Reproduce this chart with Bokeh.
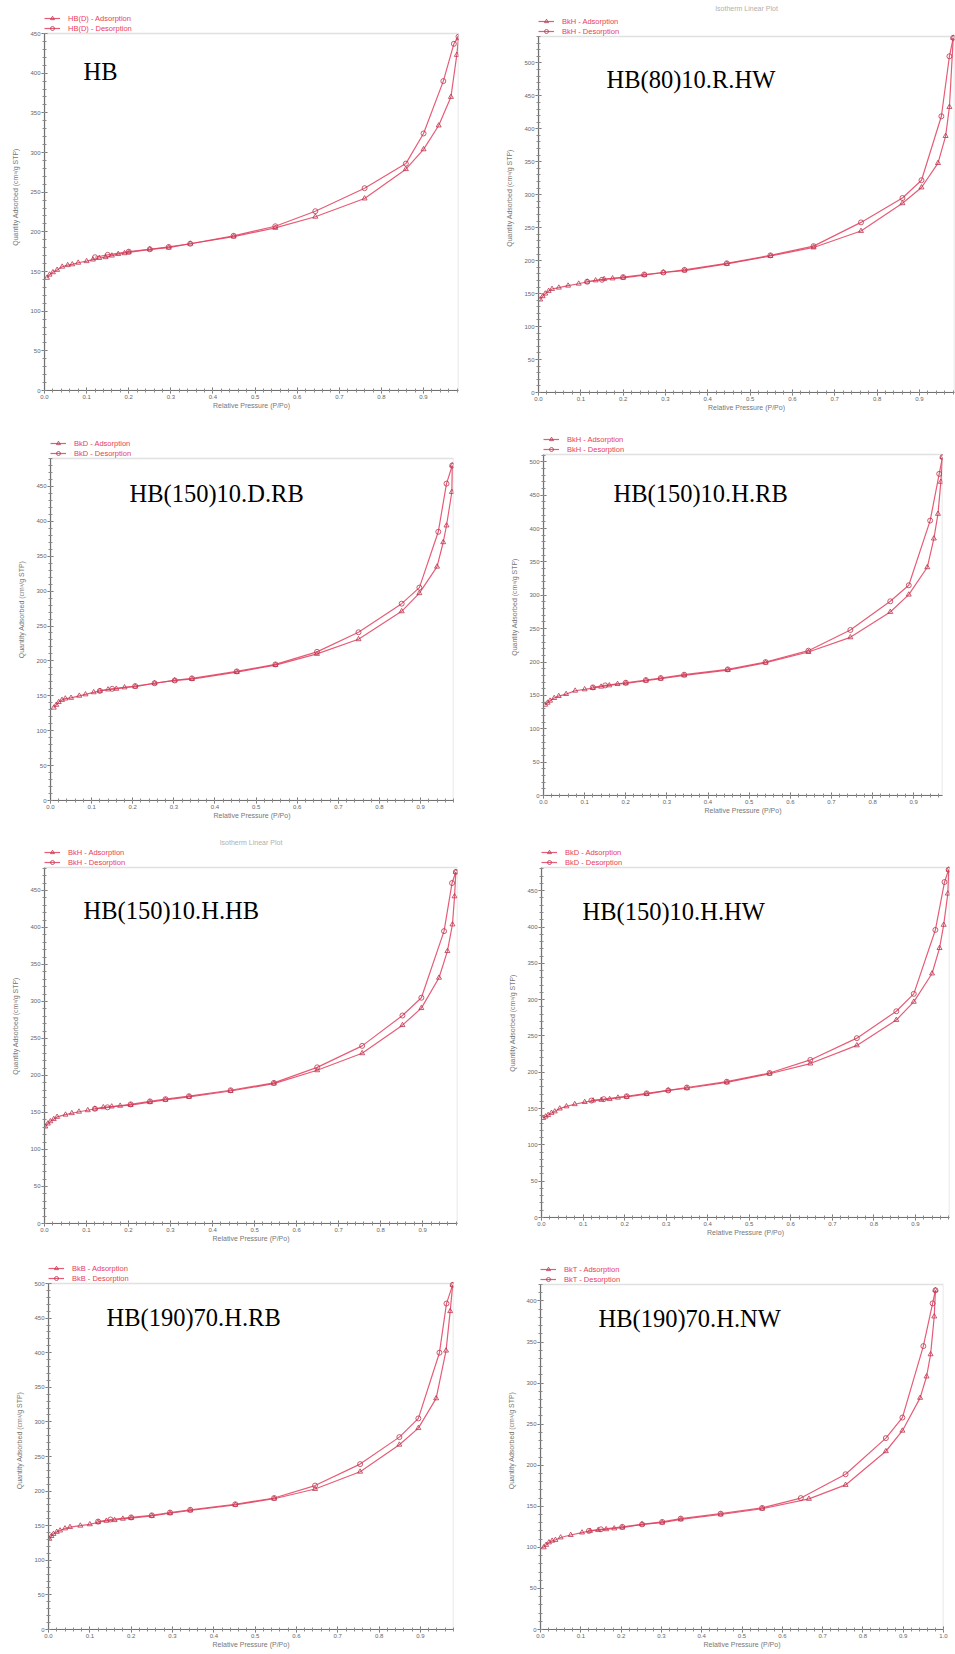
from bokeh.plotting import figure
from bokeh.models import (Legend, LegendItem, Label, SingleIntervalTicker, BoxAnnotation,
                          NumeralTickFormatter, Range1d)
from bokeh.layouts import column, row
from bokeh.embed import file_html
from bokeh.resources import INLINE

# ---------------- data ----------------
sample_names = ["HB", "HB(80)10.R.HW", "HB(150)10.D.RB", "HB(150)10.H.RB",
                "HB(150)10.H.HB", "HB(150)10.H.HW", "HB(190)70.H.RB", "HB(190)70.H.NW"]
legend_ids = ["HB(D)", "BkH", "BkD", "BkH", "BkH", "BkD", "BkB", "BkT"]
y_max = [450, 540, 490, 511, 481, 482, 500, 420]
x_max = [0.983, 0.983, 0.98, 0.97, 0.983, 0.982, 0.98, 1.0]

hb_ads_x = [0.006, 0.012, 0.02, 0.03, 0.042, 0.055, 0.066, 0.08, 0.10, 0.115, 0.13, 0.145, 0.16, 0.175, 0.19, 0.20,
            0.25, 0.295, 0.346, 0.449, 0.548, 0.643, 0.76, 0.858, 0.90, 0.936, 0.965, 0.979, 0.983]
hb_ads_y = [142, 146, 149, 152, 156, 158, 159, 161, 163, 165, 167, 168, 170, 172, 173, 174,
            178, 180, 185, 194, 205, 219, 242, 279, 304, 334, 370, 423, 444]
hb_des_x = [0.983, 0.972, 0.947, 0.90, 0.858, 0.76, 0.643, 0.548, 0.449, 0.346, 0.295, 0.25, 0.20, 0.15, 0.12]
hb_des_y = [446, 437, 390, 324, 286, 255, 226, 207, 195, 185, 181, 178, 175, 171, 168]

r80_ads_x = [0.004, 0.01, 0.016, 0.024, 0.032, 0.048, 0.07, 0.095, 0.115, 0.135, 0.155, 0.175, 0.20, 0.25,
             0.295, 0.345, 0.445, 0.548, 0.65, 0.762, 0.86, 0.905, 0.944, 0.962, 0.971, 0.98]
r80_ads_y = [141, 146, 150, 154, 157, 159, 162, 165, 168, 170, 172, 173, 174, 178,
             182, 185, 195, 207, 220, 245, 287, 311, 348, 389, 433, 538]
r80_des_x = [0.98, 0.971, 0.952, 0.905, 0.86, 0.762, 0.65, 0.548, 0.445, 0.345, 0.295, 0.25, 0.20, 0.15, 0.115]
r80_des_y = [538, 510, 419, 322, 295, 258, 222, 208, 196, 186, 182, 179, 175, 171, 168]

d150rb_ads_x = [0.008, 0.014, 0.02, 0.028, 0.036, 0.05, 0.07, 0.085, 0.105, 0.12, 0.14, 0.16, 0.18, 0.206,
                0.253, 0.302, 0.344, 0.453, 0.547, 0.648, 0.749, 0.854, 0.897, 0.94, 0.955, 0.963, 0.976, 0.977]
d150rb_ads_y = [133, 137, 141, 144, 146, 147, 150, 152, 155, 157, 159, 160, 162, 163,
                168, 172, 174, 184, 194, 210, 231, 271, 297, 335, 370, 394, 442, 480]
d150rb_des_x = [0.977, 0.963, 0.943, 0.897, 0.854, 0.749, 0.648, 0.547, 0.453, 0.344, 0.302, 0.253, 0.206, 0.15, 0.12]
d150rb_des_y = [480, 454, 385, 305, 282, 241, 213, 195, 185, 175, 172, 168, 164, 160, 157]

h150rb_ads_x = [0.004, 0.01, 0.016, 0.026, 0.037, 0.055, 0.077, 0.10, 0.12, 0.14, 0.16, 0.18, 0.20, 0.249,
                0.285, 0.342, 0.448, 0.54, 0.644, 0.746, 0.843, 0.888, 0.933, 0.949, 0.959, 0.966, 0.97]
h150rb_ads_y = [136, 139, 142, 146, 149, 152, 157, 159, 161, 163, 165, 167, 168, 172,
                175, 180, 188, 199, 215, 237, 275, 301, 342, 385, 422, 470, 507]
h150rb_des_x = [0.97, 0.962, 0.94, 0.888, 0.843, 0.746, 0.644, 0.54, 0.448, 0.342, 0.285, 0.249, 0.20, 0.15, 0.12]
h150rb_des_y = [507, 482, 412, 315, 291, 248, 217, 200, 189, 181, 176, 173, 169, 165, 162]

h150hb_ads_x = [0.002, 0.008, 0.014, 0.022, 0.03, 0.05, 0.065, 0.082, 0.103, 0.12, 0.14, 0.16, 0.18, 0.205,
                0.251, 0.288, 0.344, 0.443, 0.546, 0.649, 0.756, 0.852, 0.897, 0.939, 0.959, 0.971, 0.976, 0.979]
h150hb_ads_y = [131, 135, 138, 141, 144, 147, 149, 151, 153, 155, 157, 158, 159, 160,
                164, 167, 171, 179, 189, 207, 230, 268, 291, 332, 368, 404, 442, 475]
h150hb_des_x = [0.979, 0.97, 0.951, 0.897, 0.852, 0.756, 0.649, 0.546, 0.443, 0.344, 0.288, 0.251, 0.205, 0.15, 0.12]
h150hb_des_y = [475, 460, 395, 305, 281, 240, 211, 190, 180, 172, 168, 165, 161, 157, 155]

h150hw_ads_x = [0.004, 0.01, 0.016, 0.024, 0.032, 0.044, 0.06, 0.08, 0.104, 0.124, 0.144, 0.164, 0.184, 0.205,
                0.253, 0.305, 0.35, 0.446, 0.549, 0.647, 0.759, 0.854, 0.896, 0.94, 0.958, 0.968, 0.978, 0.98]
h150hw_ads_y = [137, 139, 141, 144, 146, 150, 153, 156, 159, 161, 162, 163, 165, 166,
                170, 175, 178, 186, 198, 212, 237, 272, 297, 336, 371, 403, 446, 479]
h150hw_des_x = [0.98, 0.97, 0.948, 0.896, 0.854, 0.759, 0.647, 0.549, 0.446, 0.35, 0.305, 0.253, 0.205, 0.15, 0.12]
h150hw_des_y = [479, 462, 396, 308, 284, 247, 217, 199, 187, 179, 175, 171, 167, 163, 161]

h190rb_ads_x = [0.002, 0.007, 0.012, 0.02, 0.028, 0.04, 0.052, 0.077, 0.10, 0.12, 0.14, 0.16, 0.18, 0.20,
                0.25, 0.294, 0.343, 0.452, 0.546, 0.645, 0.754, 0.849, 0.895, 0.938, 0.962, 0.972, 0.978]
h190rb_ads_y = [131, 135, 138, 141, 143, 146, 148, 150, 152, 155, 157, 158, 160, 161,
                164, 168, 172, 180, 189, 203, 228, 267, 291, 334, 403, 460, 498]
h190rb_des_x = [0.978, 0.963, 0.946, 0.895, 0.849, 0.754, 0.645, 0.546, 0.452, 0.343, 0.294, 0.25, 0.20, 0.15, 0.12]
h190rb_des_y = [498, 471, 400, 305, 278, 239, 208, 190, 181, 173, 169, 165, 162, 159, 156]

h190nw_ads_x = [0.008, 0.014, 0.021, 0.029, 0.037, 0.05, 0.075, 0.103, 0.123, 0.143, 0.163, 0.183, 0.203,
                0.252, 0.302, 0.348, 0.447, 0.55, 0.666, 0.757, 0.857, 0.898, 0.942, 0.958, 0.968, 0.977, 0.98]
h190nw_ads_y = [100, 103, 106, 108, 109, 112, 115, 118, 120, 121, 122, 123, 124,
                128, 130, 134, 140, 147, 159, 176, 217, 242, 282, 308, 335, 381, 413]
h190nw_des_x = [0.98, 0.973, 0.95, 0.898, 0.857, 0.757, 0.646, 0.55, 0.447, 0.348, 0.302, 0.252, 0.203, 0.15, 0.12]
h190nw_des_y = [413, 397, 345, 258, 233, 189, 160, 148, 141, 135, 131, 128, 125, 122, 120]

ads_x = [hb_ads_x, r80_ads_x, d150rb_ads_x, h150rb_ads_x, h150hb_ads_x, h150hw_ads_x, h190rb_ads_x, h190nw_ads_x]
ads_y = [hb_ads_y, r80_ads_y, d150rb_ads_y, h150rb_ads_y, h150hb_ads_y, h150hw_ads_y, h190rb_ads_y, h190nw_ads_y]
des_x = [hb_des_x, r80_des_x, d150rb_des_x, h150rb_des_x, h150hb_des_x, h150hw_des_x, h190rb_des_x, h190nw_des_x]
des_y = [hb_des_y, r80_des_y, d150rb_des_y, h150rb_des_y, h150hb_des_y, h150hw_des_y, h190rb_des_y, h190nw_des_y]

# ---------------- layout (pixels) ----------------
# (border_left, frame_w, border_right, border_top, frame_h, border_bottom)
geom = [(44, 414, 19, 33, 357, 25), (61, 416, 1, 36, 356, 23),
        (50, 403, 24, 43, 342, 25), (66, 399, 13, 39, 341, 30),
        (44, 413, 20, 42, 356, 25), (64, 408, 6, 42, 350, 31),
        (48, 405, 24, 35, 346, 24), (63, 403, 15, 36, 345, 24)]
# sample label offset from frame top-left (left edge, baseline)
label_off = [(39, 38), (68, 43), (79, 35), (70, 39), (39, 43), (41, 44), (58, 34), (58, 34)]
# small grey heading above some panels: pixels above the frame top (None = absent)
heading_up = [None, 28, None, None, 25, None, None, None]

LINE = "#e2405e"
MARK = "#b8364f"


def make(i):
    bl, fw, br, bt, fh, bb = geom[i]
    ext = bt - 3                              # drawing area reaching above the box
    y_top = y_max[i] * (fh + ext) / fh
    p = figure(frame_width=fw, frame_height=fh + ext, min_border_left=bl, min_border_right=br,
               min_border_top=bt - ext, min_border_bottom=bb, title=None,
               x_range=Range1d(0, x_max[i]), y_range=Range1d(0, y_top),
               output_backend="svg", toolbar_location=None)
    p.xgrid.visible = False
    p.ygrid.visible = False
    p.outline_line_color = None
    p.background_fill_color = "white"
    p.add_layout(BoxAnnotation(left=0, right=x_max[i], bottom=0, top=y_max[i],
                               fill_alpha=0, line_color="#9a9a9a", line_width=1.5))

    p.xaxis.ticker = SingleIntervalTicker(interval=0.1, num_minor_ticks=5)
    p.yaxis.ticker = SingleIntervalTicker(interval=50, num_minor_ticks=5)
    p.yaxis.bounds = (0, y_max[i])
    p.xaxis.formatter = NumeralTickFormatter(format="0.0")
    p.xaxis.axis_label = "Relative Pressure (P/Po)"
    p.yaxis.axis_label = "Quantity Adsorbed (cm\u00b3/g STP)"
    for ax in (p.xaxis[0], p.yaxis[0]):
        ax.axis_line_color = "#6a6a6a"
        ax.axis_line_width = 1.2
        ax.major_tick_line_color = "#6a6a6a"
        ax.minor_tick_line_color = "#8a8a8a"
        ax.major_tick_in = 3
        ax.major_tick_out = 3
        ax.minor_tick_in = 2
        ax.minor_tick_out = 2
        ax.major_label_text_font_size = "6px"
        ax.major_label_text_color = "#666666"
        ax.major_label_standoff = 1
        ax.axis_label_text_font_size = "7px"
        ax.axis_label_text_font_style = "normal"
        ax.axis_label_text_color = "#777777"
    p.xaxis.axis_label_standoff = 0
    p.yaxis.axis_label_standoff = 8

    la = p.line(ads_x[i], ads_y[i], line_color=LINE, line_width=1.2, line_alpha=0.85)
    sa = p.scatter(ads_x[i], ads_y[i], marker="triangle", size=5, fill_color=None,
                   line_color=MARK, line_width=1, line_alpha=0.8)
    ld = p.line(des_x[i], des_y[i], line_color=LINE, line_width=1.2, line_alpha=0.85)
    sd = p.scatter(des_x[i], des_y[i], marker="circle", size=5, fill_color=None,
                   line_color=MARK, line_width=1, line_alpha=0.8)

    # legend sits just above the plot box (its bottom edge on the box top)
    leg = Legend(items=[LegendItem(label=legend_ids[i] + " - Adsorption", renderers=[la, sa]),
                        LegendItem(label=legend_ids[i] + " - Desorption", renderers=[ld, sd])],
                 location=(0, fh), orientation="vertical", glyph_width=16, glyph_height=10,
                 label_height=10, label_text_font_size="7.5px", label_text_color="#e8405a",
                 label_standoff=8, spacing=0, padding=0, margin=0,
                 border_line_color=None, background_fill_alpha=0)
    p.add_layout(leg)

    if heading_up[i] is not None:
        p.add_layout(Label(x=x_max[i] / 2, y=y_max[i] * (1 + heading_up[i] / fh),
                           text="Isotherm Linear Plot", text_font_size="7px", text_color="#b0b0b0",
                           text_align="center", text_baseline="middle"))

    dx, dy = label_off[i]
    p.add_layout(Label(x=dx / fw * x_max[i], y=(fh - dy) / fh * y_max[i], text=sample_names[i],
                       text_font="Liberation Serif", text_font_size="24.5px", text_color="black",
                       text_align="left", text_baseline="alphabetic"))
    return p


figs = [make(i) for i in range(8)]
layout = column(row(figs[0], figs[1]), row(figs[2], figs[3]),
                row(figs[4], figs[5]), row(figs[6], figs[7]))

open("out.html", "w").write(file_html(layout, INLINE))
